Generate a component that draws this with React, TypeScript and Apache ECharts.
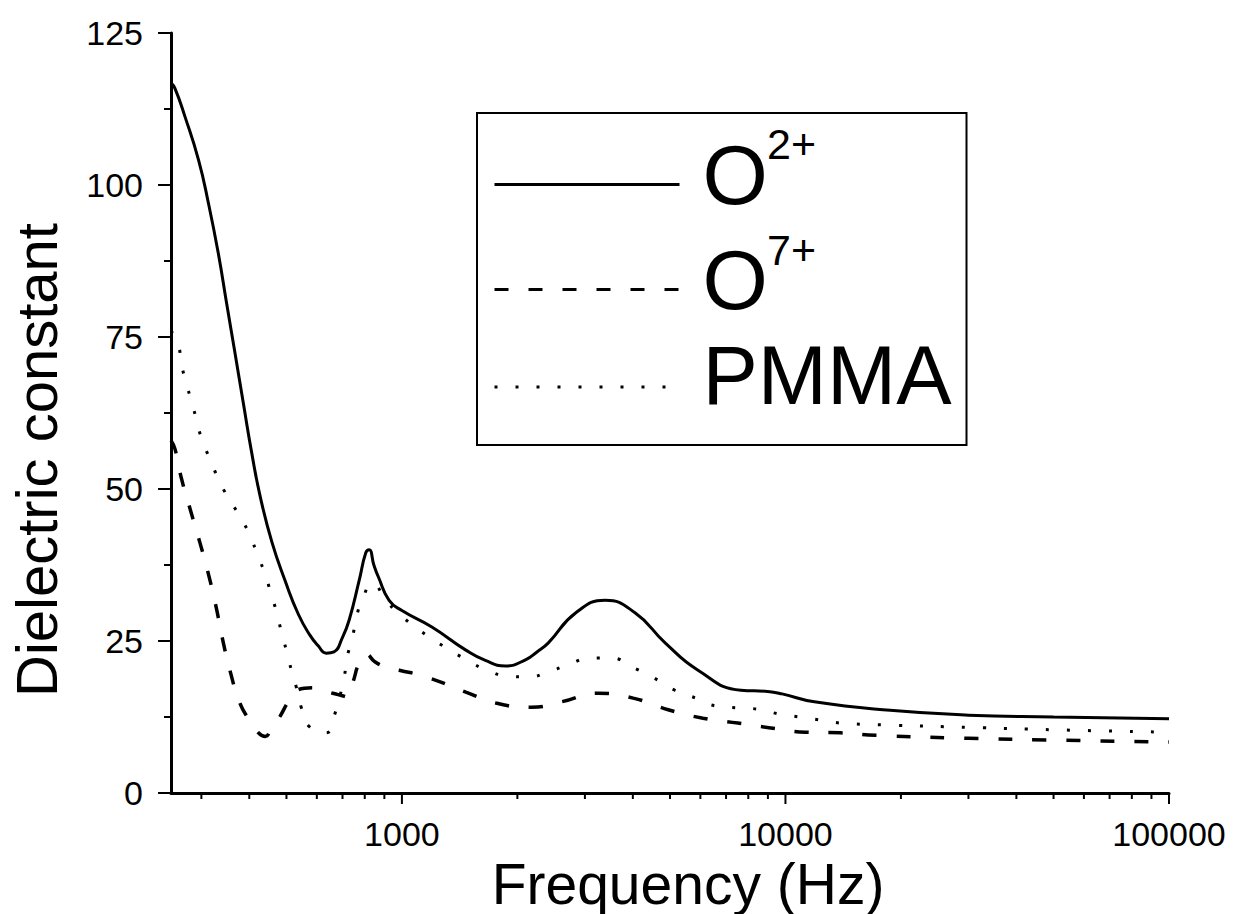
import React, { useEffect, useRef } from 'react';
import * as echarts from 'echarts';

const FONT = '"Liberation Sans", Arial, Helvetica, sans-serif';

// O2+ (solid)
const o2Freq = [250, 256, 272, 295, 313, 332, 349, 367, 386, 406, 427, 458, 496, 537, 575, 605, 635, 665, 700, 729, 774, 805, 822, 845, 870, 926, 1000, 1197, 1468, 1650, 1862, 2100, 2250, 2409, 2836, 3390, 4060, 4856, 5915, 7650, 8990, 9800, 11900, 18750, 30000, 50000, 100000];
const o2Val = [116.8, 115.9, 111.2, 104.1, 97, 88.8, 80.6, 72.4, 64.1, 55.9, 48.8, 41.3, 34.9, 29.4, 26, 24.2, 23, 23.2, 25.6, 28.5, 35, 39.5, 40, 37.5, 35.4, 31.7, 30, 27.3, 23.5, 21.8, 20.9, 21.9, 23.2, 24.7, 29.6, 31.7, 29.6, 24.7, 20.2, 16.9, 16.7, 16.3, 15, 13.6, 12.8, 12.5, 12.2];

// O7+ (dashed)
const o7Freq = [250, 256, 266, 281, 297, 313, 327, 341, 356, 378, 400, 418, 440, 455, 480, 505, 531, 584, 617, 660, 699, 720, 745, 774, 807, 850, 910, 984, 1156, 1468, 1757, 2178, 2607, 3250, 4010, 4946, 6095, 7510, 9155, 11290, 13910, 17160, 30000, 50000, 100000];
const o7Val = [58, 56.6, 51.8, 46.5, 41.3, 36, 30.9, 25.2, 20.2, 14.8, 12, 10.2, 9.3, 10.3, 12.5, 15, 16.9, 17.3, 16.9, 16.4, 16.0, 15.8, 18.2, 21.4, 22.8, 21.6, 20.7, 20.2, 19.1, 16.6, 14.8, 14.1, 15, 16.4, 15.6, 13.7, 12.3, 11.5, 10.7, 10, 9.9, 9.5, 9.0, 8.7, 8.4];

// PMMA (dotted)
const pmFreq = [250, 261, 266, 274, 283, 292, 301, 316, 332, 352, 378, 402, 421, 440, 455, 471, 485, 500, 515, 531, 547, 574, 635, 667, 707, 720, 743, 760, 788, 837, 916, 1010, 1156, 1311, 1475, 1665, 1899, 2139, 2409, 2736, 3100, 3514, 3988, 4549, 5150, 5842, 6590, 7470, 8470, 9600, 10880, 12350, 13910, 15770, 17900, 30000, 50000, 100000];
const pmVal = [76, 73.8, 70.6, 67.4, 64.3, 61.2, 58.1, 54.9, 51.7, 48.6, 45.5, 42.3, 39, 36, 32.9, 29.8, 26.5, 23.4, 20.2, 17.3, 14, 10.9, 9.9, 12.8, 19.1, 22.4, 25.5, 28.8, 31.7, 34.5, 31.4, 28.8, 26, 23.8, 21.9, 20.2, 19.2, 19.1, 19.9, 21.2, 22.2, 22.2, 20.7, 18.9, 16.9, 15.6, 14.3, 14, 13.8, 13, 12.5, 12, 11.5, 11.3, 11.2, 10.8, 10.4, 10];

const xMajorTicks = [1000, 10000, 100000];
const xMinorTicks = [300, 400, 500, 600, 700, 800, 900, 2000, 3000, 4000, 5000, 6000, 7000, 8000, 9000, 20000, 30000, 40000, 50000, 60000, 70000, 80000, 90000];
const seriesNames = ['O2+', 'O7+', 'PMMA'];
const legendLabels: Record<string, string> = {
  'O2+': '{o|O}',
  'O7+': '{o|O}',
  PMMA: '{p|PMMA}',
};
const superscripts = ['2+', '7+'];

export default function App() {
  const ref = useRef<HTMLDivElement>(null);
  useEffect(() => {
    const chart = echarts.init(ref.current!, null, { renderer: 'svg' });
    const pair = (fs: number[], vs: number[]) => fs.map((f, i) => [f, vs[i]]);
    const tickSeries = (name: string, ticks: number[], len: number) => ({
      type: 'custom',
      name,
      silent: true,
      clip: false,
      z: 5,
      data: ticks.map((t) => [t, 0]),
      encode: { x: 0, y: 1 },
      renderItem: (_p: any, api: any) => {
        const p = api.coord([api.value(0), 0]);
        return {
          type: 'line',
          shape: { x1: p[0], y1: p[1], x2: p[0], y2: p[1] + len },
          style: { stroke: '#000', lineWidth: 2 },
        };
      },
    });
    chart.setOption({
      animation: false,
      backgroundColor: '#fff',
      grid: { left: 171, right: 76, top: 33, bottom: 121, containLabel: false, outerBoundsMode: 'none' },
      legend: {
        data: seriesNames,
        orient: 'vertical',
        left: 477,
        top: 113,
        padding: [11, 15, 5, 16],
        itemGap: -16,
        itemWidth: 185,
        itemHeight: 14,
        borderColor: '#000',
        borderWidth: 2,
        backgroundColor: '#fff',
        itemStyle: { opacity: 0, borderWidth: 0 },
        lineStyle: { width: 3 },
        formatter: (name: string) => legendLabels[name],
        textStyle: {
          color: '#000',
          fontFamily: FONT,
          rich: {
            o: { fontSize: 84, lineHeight: 90, padding: [9, 0, 28, 18], fontFamily: FONT, color: '#000' },
            p: { fontSize: 83, lineHeight: 90, padding: [0, 0, 23, 18], fontFamily: FONT, color: '#000' },
          },
        },
      },
      graphic: superscripts.map((t, i) => ({
        type: 'text',
        z: 100,
        x: 767,
        y: i === 0 ? 122 : 228,
        style: {
          text: t,
          fontSize: 43,
          fontFamily: FONT,
          fill: '#000',
          verticalAlign: 'top',
          align: 'left',
        },
      })),
      xAxis: {
        type: 'log',
        logBase: 10,
        min: 250,
        max: 100000,
        name: 'Frequency (Hz)',
        nameLocation: 'middle',
        nameGap: 39,
        nameTextStyle: { fontSize: 57, fontFamily: FONT, color: '#000', padding: [0, 0, 0, 36] },
        axisLine: { show: true, lineStyle: { color: '#000', width: 3 } },
        axisTick: { show: false },
        minorTick: { show: false },
        splitLine: { show: false },
        axisLabel: {
          fontSize: 34,
          fontFamily: FONT,
          color: '#000',
          margin: 24,
          showMinLabel: false,
          formatter: (v: number) => String(Math.round(v)),
        },
      },
      yAxis: {
        type: 'value',
        min: 0,
        max: 125,
        interval: 25,
        name: 'Dielectric constant',
        nameLocation: 'middle',
        nameGap: 106,
        nameTextStyle: { fontSize: 58, fontFamily: FONT, color: '#000', padding: [0, 94, 0, 0] },
        axisLine: { show: true, lineStyle: { color: '#000', width: 3 } },
        axisTick: { show: true, length: 13, lineStyle: { color: '#000', width: 2 } },
        minorTick: { show: true, splitNumber: 2, length: 7, lineStyle: { color: '#000', width: 2 } },
        splitLine: { show: false },
        axisLabel: { fontSize: 34, fontFamily: FONT, color: '#000', margin: 28 },
      },
      series: [
        {
          name: 'O2+',
          type: 'line',
          data: pair(o2Freq, o2Val),
          symbol: 'none',
          smooth: 0.5,
          itemStyle: { color: '#000' },
          lineStyle: { color: '#000', width: 3, type: 'solid' },
          z: 3,
        },
        {
          name: 'O7+',
          type: 'line',
          data: pair(o7Freq, o7Val),
          symbol: 'none',
          smooth: 0.5,
          itemStyle: { color: '#000' },
          lineStyle: { color: '#000', width: 3.5, type: [14, 20] },
          z: 3,
        },
        {
          name: 'PMMA',
          type: 'line',
          data: pair(pmFreq, pmVal),
          symbol: 'none',
          smooth: 0.5,
          itemStyle: { color: '#000' },
          lineStyle: { color: '#000', width: 3, type: [3, 18] },
          z: 3,
        },
        tickSeries('majorTicks', xMajorTicks, 11),
        tickSeries('minorTicks', xMinorTicks, 6),
      ],
    });
    return () => chart.dispose();
  }, []);
  return (
    <div
      ref={ref}
      style={{ position: 'fixed', left: 0, top: 0, width: 1245, height: 914, background: '#fff' }}
    />
  );
}
